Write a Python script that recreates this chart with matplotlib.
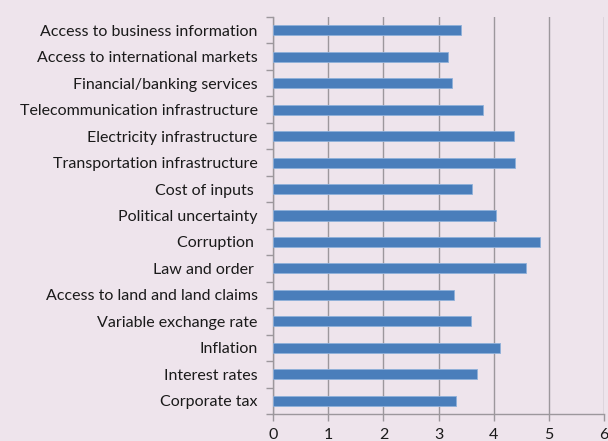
import matplotlib
import matplotlib.pyplot as plt
import numpy as np

matplotlib.use("Agg")

BG = "#EEE4EC"
BAR = "#4A7EBB"
GRID = "#9C979C"
TEXT = "#1A1A1A"

# categories listed top to bottom
factors = [
    "Access to business information",
    "Access to international markets",
    "Financial/banking services",
    "Telecommunication infrastructure",
    "Electricity infrastructure",
    "Transportation infrastructure",
    "Cost of inputs ",
    "Political uncertainty",
    "Corruption ",
    "Law and order ",
    "Access to land and land claims",
    "Variable exchange rate",
    "Inflation",
    "Interest rates",
    "Corporate tax",
]
scores = [3.41, 3.17, 3.24, 3.80, 4.37, 4.39, 3.60, 4.03, 4.83, 4.59, 3.27, 3.58, 4.11, 3.70, 3.32]
xticks = [0, 1, 2, 3, 4, 5, 6]

plt.rcParams["font.family"] = ["Lato", "DejaVu Sans"]

fig = plt.figure(figsize=(6.08, 4.41), dpi=100)
fig.patch.set_facecolor(BG)
ax = fig.add_axes([273 / 608, 1 - 414 / 441, (604.3 - 273) / 608, (414 - 17) / 441])
ax.set_facecolor(BG)

n = len(factors)
pos = np.arange(n)[::-1]
ax.barh(pos, scores, height=0.38, color=BAR, edgecolor="#8FB0DA", linewidth=0.6, zorder=3)

ax.set_xlim(0, 6)
ax.set_ylim(-0.5, n - 0.5)
ax.set_xticks(xticks)
ax.set_xticklabels([str(t) for t in xticks])
ax.set_yticks(pos)
ax.set_yticklabels(factors)
ax.set_yticks(np.arange(n + 1) - 0.5, minor=True)

ax.grid(axis="x", color=GRID, linewidth=1.0, zorder=0)
for side in ["top", "right"]:
    ax.spines[side].set_visible(False)
for side in ["left", "bottom"]:
    ax.spines[side].set_color(GRID)
    ax.spines[side].set_linewidth(1.0)

ax.tick_params(axis="y", which="major", length=0, pad=11, labelsize=11.5, labelcolor=TEXT)
ax.tick_params(axis="y", which="minor", length=5, color=GRID, width=1.0)
ax.tick_params(axis="x", length=5, color=GRID, width=1.0, pad=5, labelsize=11.5, labelcolor=TEXT)

fig.savefig("out.png", dpi=100, facecolor=BG)
